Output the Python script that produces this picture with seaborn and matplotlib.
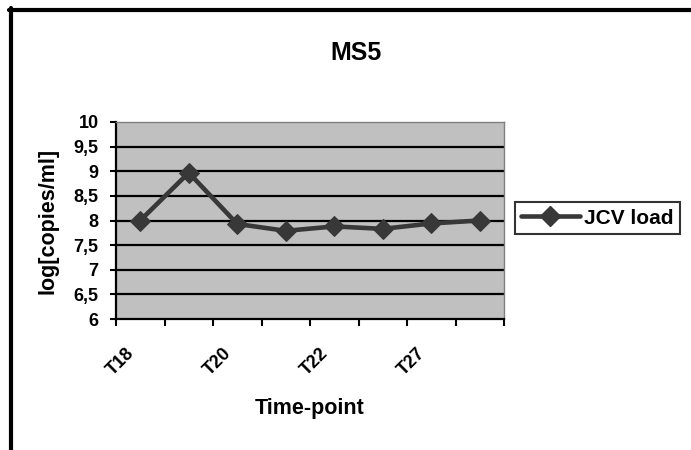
import matplotlib
matplotlib.use("Agg")
import matplotlib.pyplot as plt
import matplotlib.transforms as mtransforms
from matplotlib.lines import Line2D
import numpy as np
import pandas as pd
import seaborn as sns

# JCV viral load per sampling time-point for patient MS5
point_index = [0, 1, 2, 3, 4, 5, 6, 7]
jcv_load = [8.00, 8.97, 7.93, 7.79, 7.88, 7.83, 7.94, 8.00]
tick_positions = [0, 2, 4, 6]
tick_labels = ["T18", "T20", "T22", "T27"]
y_ticks = [6, 6.5, 7, 7.5, 8, 8.5, 9, 9.5, 10]
y_tick_labels = ["6", "6,5", "7", "7,5", "8", "8,5", "9", "9,5", "10"]

df = pd.DataFrame({"point": point_index, "load": jcv_load})

sns.set_style("white")
plt.rcParams["font.family"] = ["Liberation Sans", "DejaVu Sans"]
plt.rcParams["font.weight"] = "bold"
for key in ("text.color", "axes.labelcolor", "xtick.color", "ytick.color"):
    plt.rcParams[key] = "black"

W, H = 691, 450
fig = plt.figure(figsize=(W / 100, H / 100), dpi=100)
fig.patch.set_facecolor("white")

left, right, top, bottom = 116, 504, 122, 319
ax = fig.add_axes([left / W, 1 - bottom / H, (right - left) / W, (bottom - top) / H])
ax.set_facecolor("#c0c0c0")

line_color = "#383838"
sns.lineplot(data=df, x="point", y="load", ax=ax, color=line_color, linewidth=3.3,
             marker="D", markersize=10, markeredgecolor=line_color,
             markerfacecolor=line_color, label="JCV load", legend=False)

ax.set_xlim(-0.5, 7.5)
ax.set_ylim(6, 10)

# horizontal gridlines
ax.set_yticks(y_ticks)
ax.set_yticklabels(y_tick_labels, fontsize=13, fontweight="bold")
for v in y_ticks[1:-1]:
    ax.axhline(v, color="black", linewidth=1.6, zorder=1)

# category boundary ticks on the x axis, labels on every second category
ax.set_xticks(tick_positions)
ax.set_xticklabels(tick_labels, fontsize=13, fontweight="bold", rotation=45,
                   ha="right", va="center", rotation_mode="anchor")
ax.set_xticks(np.arange(-0.5, 8.0, 1.0), minor=True)
ax.tick_params(axis="x", which="major", length=0, pad=23)
ax.tick_params(axis="x", which="minor", length=5, width=1.5, color="black",
               direction="out", bottom=True)
ax.tick_params(axis="y", length=4.5, width=1.5, color="black", direction="out",
               pad=8, left=True)
shift = mtransforms.ScaledTranslation(-9 / 100, 0, fig.dpi_scale_trans)
for lab in ax.get_xticklabels():
    lab.set_transform(lab.get_transform() + shift)

for side in ("left", "bottom"):
    ax.spines[side].set_color("black")
    ax.spines[side].set_linewidth(1.6)
for side in ("top", "right"):
    ax.spines[side].set_color("#808080")
    ax.spines[side].set_linewidth(1.0)

ax.set_xlabel("Time-point", fontsize=15.5, fontweight="bold", labelpad=14)
ax.set_ylabel("log[copies/ml]", fontsize=15.5, fontweight="bold", labelpad=11)

fig.text(356 / W, 1 - 53 / H, "MS5", ha="center", va="center",
         fontsize=18, fontweight="bold")

leg_handle = Line2D([], [], color=line_color, linewidth=3.3, marker="D",
                    markersize=10, markerfacecolor=line_color,
                    markeredgecolor=line_color)
leg = fig.legend([leg_handle], ["JCV load"], loc="center left",
                 bbox_to_anchor=(515 / W, 1 - 218 / H),
                 prop={"size": 15, "weight": "bold"}, frameon=True,
                 fancybox=False, handlelength=2.8, handletextpad=0.2,
                 borderpad=0.3, borderaxespad=0)
leg.get_frame().set_edgecolor("black")
leg.get_frame().set_linewidth(1.5)

# outer chart frame (top and left edges)
fig.add_artist(Line2D([11 / W, 11 / W], [0, 1 - 8 / H], color="black",
                      linewidth=3, transform=fig.transFigure))
fig.add_artist(Line2D([9 / W, 1], [1 - 10 / H, 1 - 10 / H], color="black",
                      linewidth=3, transform=fig.transFigure))

fig.savefig("out.png", dpi=100)
